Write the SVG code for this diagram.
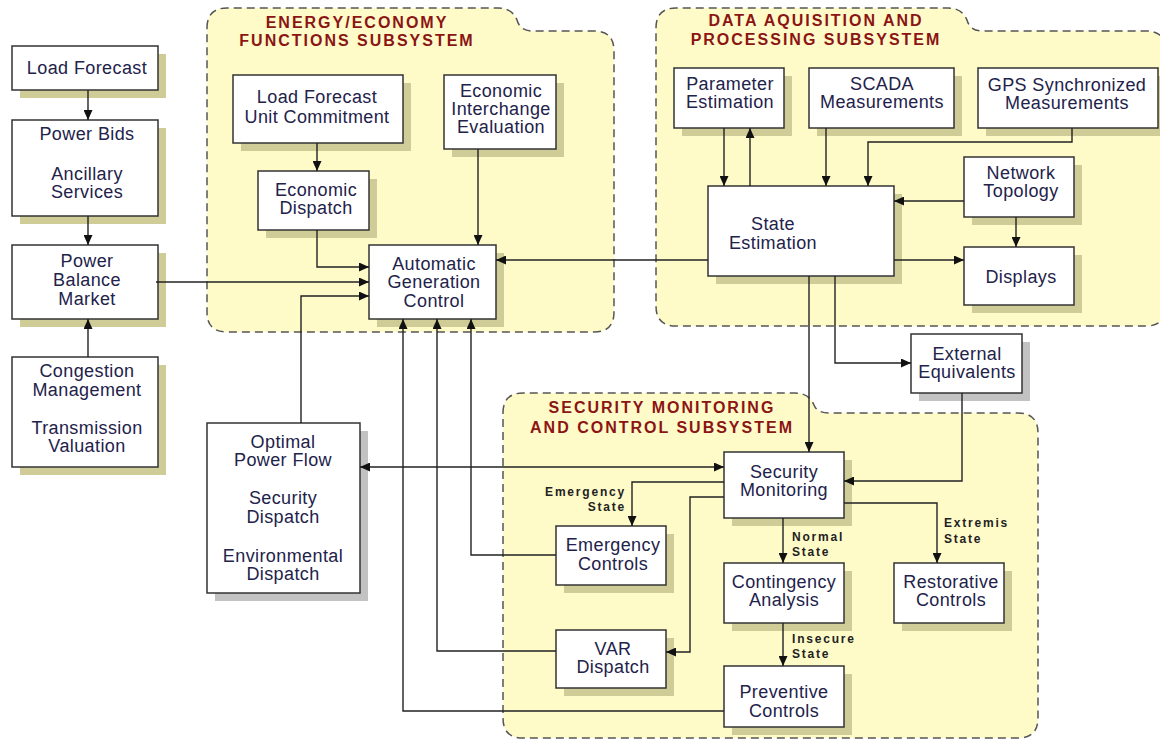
<svg xmlns="http://www.w3.org/2000/svg" width="1160" height="740" viewBox="0 0 1160 740">
<style>
.cont{fill:#fffbc9;stroke:#555;stroke-width:1.5;stroke-dasharray:8 5}
.title{font-family:"Liberation Sans",Arial,sans-serif;font-weight:bold;font-size:16px;letter-spacing:2px;fill:#8b1414;text-anchor:middle}
.box{fill:#fff;stroke:#333;stroke-width:1.5}
.sh{fill:#cfcc98}
.shg{fill:#c2c2c2}
.t{font-family:"Liberation Sans",Arial,sans-serif;font-size:18px;letter-spacing:0.4px;fill:#22224a;text-anchor:middle}
.lbl{font-family:"Liberation Sans",Arial,sans-serif;font-weight:bold;font-size:12px;letter-spacing:1.8px;fill:#222}
.c{fill:none;stroke:#222;stroke-width:1.4}
</style>
<defs>
<marker id="ah" markerUnits="userSpaceOnUse" markerWidth="10" markerHeight="9" refX="10" refY="4.5" orient="auto-start-reverse">
<path d="M0,0 L10,4.5 L0,9 z" fill="#111"/>
</marker>
</defs>
<rect width="1160" height="740" fill="#fff"/>
<g id="containers">
<g id="energy-subsystem">
<path class="cont" d="M207,28 Q207,8 227,8 H498 Q512,8 517,20 Q520,31 532,31 H594 Q614,31 614,51 V312 Q614,332 594,332 H227 Q207,332 207,312 Z"/>
<text class="title" x="357" y="28">ENERGY/ECONOMY</text>
<text class="title" x="357" y="46">FUNCTIONS SUBSYSTEM</text>
</g>
<g id="data-subsystem">
<path class="cont" d="M656,28 Q656,8 676,8 H948 Q962,8 967,20 Q970,31 982,31 H1146 Q1166,31 1166,51 V306 Q1166,326 1146,326 H676 Q656,326 656,306 Z"/>
<text class="title" x="816" y="26">DATA AQUISITION AND</text>
<text class="title" x="816" y="45">PROCESSING SUBSYSTEM</text>
</g>
<g id="security-subsystem">
<path class="cont" d="M503,413 Q503,393 523,393 H795 Q809,393 814,405 Q817,413 829,413 H1018 Q1038,413 1038,433 V718 Q1038,738 1018,738 H523 Q503,738 503,718 Z"/>
<text class="title" x="662" y="413">SECURITY MONITORING</text>
<text class="title" x="662" y="433">AND CONTROL SUBSYSTEM</text>
</g>
</g>
<g id="lf"><rect class="sh" x="20" y="54" width="146" height="44"/><rect class="box" x="12" y="46" width="146" height="44"/><text class="t" x="87" y="74">Load Forecast</text></g>
<g id="pb"><rect class="sh" x="20" y="128" width="146" height="96"/><rect class="box" x="12" y="120" width="146" height="96"/><text class="t" x="87" y="140">Power Bids</text><text class="t" x="87" y="180">Ancillary</text><text class="t" x="87" y="198">Services</text></g>
<g id="pbm"><rect class="sh" x="20" y="253" width="146" height="74"/><rect class="box" x="12" y="245" width="146" height="74"/><text class="t" x="87" y="267">Power</text><text class="t" x="87" y="286">Balance</text><text class="t" x="87" y="305">Market</text></g>
<g id="cm"><rect class="sh" x="20" y="365" width="146" height="110"/><rect class="box" x="12" y="357" width="146" height="110"/><text class="t" x="87" y="377">Congestion</text><text class="t" x="87" y="396">Management</text><text class="t" x="87" y="434">Transmission</text><text class="t" x="87" y="452">Valuation</text></g>
<g id="lfuc"><rect class="sh" x="241" y="83" width="170" height="68"/><rect class="box" x="233" y="75" width="170" height="68"/><text class="t" x="317" y="103">Load Forecast</text><text class="t" x="317" y="123">Unit Commitment</text></g>
<g id="ed"><rect class="sh" x="266" y="179" width="111" height="59"/><rect class="box" x="258" y="171" width="111" height="59"/><text class="t" x="316" y="196">Economic</text><text class="t" x="316" y="214">Dispatch</text></g>
<g id="eie"><rect class="sh" x="452" y="83" width="112" height="74"/><rect class="box" x="444" y="75" width="112" height="74"/><text class="t" x="501" y="97">Economic</text><text class="t" x="501" y="115">Interchange</text><text class="t" x="501" y="133">Evaluation</text></g>
<g id="agc"><rect class="sh" x="377" y="253" width="127" height="74"/><rect class="box" x="369" y="245" width="127" height="74"/><text class="t" x="434" y="270">Automatic</text><text class="t" x="434" y="288">Generation</text><text class="t" x="434" y="307">Control</text></g>
<g id="pe"><rect class="sh" x="682" y="76" width="110" height="60"/><rect class="box" x="674" y="68" width="110" height="60"/><text class="t" x="730" y="90">Parameter</text><text class="t" x="730" y="108">Estimation</text></g>
<g id="scada"><rect class="sh" x="817" y="76" width="145" height="60"/><rect class="box" x="809" y="68" width="145" height="60"/><text class="t" x="882" y="90">SCADA</text><text class="t" x="882" y="108">Measurements</text></g>
<g id="gps"><rect class="sh" x="986" y="76" width="180" height="60"/><rect class="box" x="978" y="68" width="180" height="60"/><text class="t" x="1067" y="91">GPS Synchronized</text><text class="t" x="1067" y="109">Measurements</text></g>
<g id="nt"><rect class="sh" x="972" y="165" width="110" height="60"/><rect class="box" x="964" y="157" width="110" height="60"/><text class="t" x="1021" y="179">Network</text><text class="t" x="1021" y="197">Topology</text></g>
<g id="se"><rect class="sh" x="716" y="194" width="186" height="90"/><rect class="box" x="708" y="186" width="186" height="90"/><text class="t" x="773" y="230">State</text><text class="t" x="773" y="249">Estimation</text></g>
<g id="disp"><rect class="sh" x="972" y="255" width="110" height="58"/><rect class="box" x="964" y="247" width="110" height="58"/><text class="t" x="1021" y="283">Displays</text></g>
<g id="ee"><rect class="shg" x="919" y="342" width="111" height="59"/><rect class="box" x="911" y="334" width="111" height="59"/><text class="t" x="967" y="360">External</text><text class="t" x="967" y="378">Equivalents</text></g>
<g id="opf"><rect class="shg" x="215" y="431" width="153" height="170"/><rect class="box" x="207" y="423" width="153" height="170"/><text class="t" x="283" y="448">Optimal</text><text class="t" x="283" y="466">Power Flow</text><text class="t" x="283" y="504">Security</text><text class="t" x="283" y="523">Dispatch</text><text class="t" x="283" y="562">Environmental</text><text class="t" x="283" y="580">Dispatch</text></g>
<g id="sm"><rect class="sh" x="732" y="460" width="120" height="66"/><rect class="box" x="724" y="452" width="120" height="66"/><text class="t" x="784" y="478">Security</text><text class="t" x="784" y="496">Monitoring</text></g>
<g id="ec"><rect class="sh" x="564" y="534" width="110" height="59"/><rect class="box" x="556" y="526" width="110" height="59"/><text class="t" x="613" y="551">Emergency</text><text class="t" x="613" y="570">Controls</text></g>
<g id="var"><rect class="sh" x="564" y="638" width="110" height="58"/><rect class="box" x="556" y="630" width="110" height="58"/><text class="t" x="613" y="655">VAR</text><text class="t" x="613" y="673">Dispatch</text></g>
<g id="ca"><rect class="sh" x="732" y="571" width="120" height="60"/><rect class="box" x="724" y="563" width="120" height="60"/><text class="t" x="784" y="588">Contingency</text><text class="t" x="784" y="606">Analysis</text></g>
<g id="rc"><rect class="sh" x="902" y="571" width="110" height="60"/><rect class="box" x="894" y="563" width="110" height="60"/><text class="t" x="951" y="588">Restorative</text><text class="t" x="951" y="606">Controls</text></g>
<g id="pc"><rect class="sh" x="732" y="674" width="120" height="61"/><rect class="box" x="724" y="666" width="120" height="61"/><text class="t" x="784" y="698">Preventive</text><text class="t" x="784" y="717">Controls</text></g>
<g id="connectors">
<path class="c" marker-end="url(#ah)" d="M88,90 V120"/>
<path class="c" marker-end="url(#ah)" d="M88,216 V245"/>
<path class="c" marker-end="url(#ah)" d="M88,357 V319"/>
<path class="c" marker-end="url(#ah)" d="M156,282 H369"/>
<path class="c" marker-end="url(#ah)" d="M317,143 V171"/>
<path class="c" marker-end="url(#ah)" d="M317,230 V267 H369"/>
<path class="c" marker-end="url(#ah)" d="M478,149 V245"/>
<path class="c" marker-end="url(#ah)" d="M301,423 V296 H369"/>
<path class="c" marker-end="url(#ah)" d="M708,260 H496"/>
<path class="c" marker-end="url(#ah)" d="M724,128 V186"/>
<path class="c" marker-end="url(#ah)" d="M750,186 V128"/>
<path class="c" marker-end="url(#ah)" d="M826,128 V186"/>
<path class="c" marker-end="url(#ah)" d="M1072,128 V142 H868 V186"/>
<path class="c" marker-end="url(#ah)" d="M964,201 H894"/>
<path class="c" marker-end="url(#ah)" d="M1016,217 V247"/>
<path class="c" marker-end="url(#ah)" d="M894,260 H964"/>
<path class="c" marker-end="url(#ah)" d="M809,276 V452"/>
<path class="c" marker-end="url(#ah)" d="M835,276 V363 H911"/>
<path class="c" marker-end="url(#ah)" d="M962,393 V481 H844"/>
<path class="c" marker-start="url(#ah)" marker-end="url(#ah)" d="M360,467 H724"/>
<path class="c" marker-end="url(#ah)" d="M724,482 H632 V526"/>
<path class="c" marker-end="url(#ah)" d="M724,497 H690 V652 H666"/>
<path class="c" marker-end="url(#ah)" d="M844,503 H937 V563"/>
<path class="c" marker-end="url(#ah)" d="M783,518 V563"/>
<path class="c" marker-end="url(#ah)" d="M783,623 V666"/>
<path class="c" marker-end="url(#ah)" d="M556,555 H471 V319"/>
<path class="c" marker-end="url(#ah)" d="M556,651 H437 V319"/>
<path class="c" marker-end="url(#ah)" d="M724,711 H403 V319"/>
<text class="lbl" x="626" y="496" text-anchor="end">Emergency</text>
<text class="lbl" x="626" y="511" text-anchor="end">State</text>
<text class="lbl" x="792" y="541">Normal</text>
<text class="lbl" x="792" y="556">State</text>
<text class="lbl" x="944" y="527">Extremis</text>
<text class="lbl" x="944" y="543">State</text>
<text class="lbl" x="792" y="643">Insecure</text>
<text class="lbl" x="792" y="658">State</text>
</g>
</svg>
